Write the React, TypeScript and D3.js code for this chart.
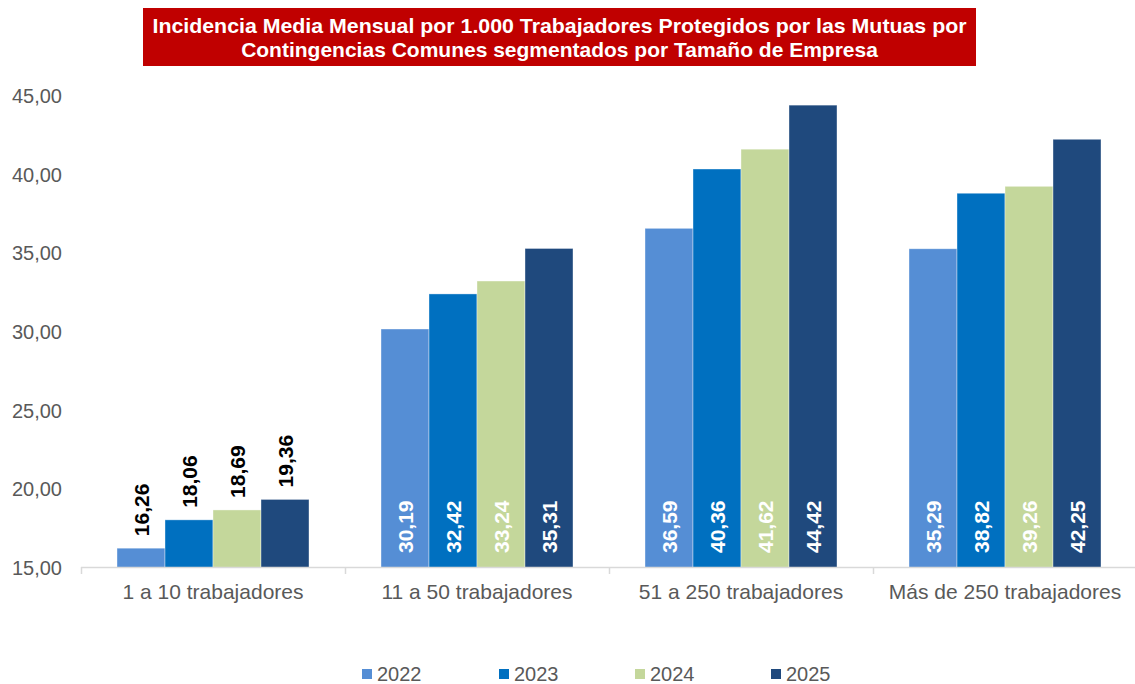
import React from "react";
import * as d3 from "d3";

const categories = ["1 a 10 trabajadores", "11 a 50 trabajadores", "51 a 250 trabajadores", "Más de 250 trabajadores"];
const years = ["2022", "2023", "2024", "2025"];
const v2022 = [16.26, 30.19, 36.59, 35.29];
const v2023 = [18.06, 32.42, 40.36, 38.82];
const v2024 = [18.69, 33.24, 41.62, 39.26];
const v2025 = [19.36, 35.31, 44.42, 42.25];
const series = [v2022, v2023, v2024, v2025];
const colors = ["#558ED5", "#0070C0", "#C4D79B", "#1F497D"];
const yTicks = [15, 20, 25, 30, 35, 40, 45];
const title1 = "Incidencia Media Mensual por 1.000 Trabajadores Protegidos por las Mutuas por";
const title2 = "Contingencias Comunes segmentados por Tamaño de Empresa";

const W = 1135, H = 684;
const FONT = "'Liberation Sans', Arial, sans-serif";

export default function App() {
  const x0 = d3.scaleBand<string>().domain(categories).range([81, 1137]).paddingInner(0).paddingOuter(0);
  const x1 = d3.scaleBand<string>().domain(years).range([0, x0.bandwidth()]).paddingInner(0).paddingOuter(0.75);
  const y = d3.scaleLinear().domain([15, 45]).range([568, 96]);
  const fmt = (v: number) => v.toFixed(2).replace(".", ",");
  const legendX = [362, 499, 635, 771];

  return (
    <svg width={W} height={H} style={{ position: "absolute", left: 0, top: 0, background: "#fff" }} fontFamily={FONT}>
      <rect x={143} y={8} width={833} height={58} fill="#C00000" />
      <text x={559.5} y={33} textAnchor="middle" fill="#fff" fontWeight="bold" fontSize={21} textLength={814} lengthAdjust="spacingAndGlyphs">{title1}</text>
      <text x={559.5} y={57} textAnchor="middle" fill="#fff" fontWeight="bold" fontSize={21}>{title2}</text>

      {yTicks.map((t) => (
        <text key={t} x={62} y={y(t)} dy="0.35em" textAnchor="end" fill="#595959" fontSize={20}>{fmt(t)}</text>
      ))}

      {categories.map((c, ci) => (
        <g key={c} transform={`translate(${x0(c)},0)`}>
          {years.map((yr, si) => {
            const v = series[si][ci];
            const bx = x1(yr)!;
            const bw = x1.bandwidth();
            const top = y(v);
            const cx = bx + bw / 2;
            const inside = ci > 0;
            const ly = inside ? y(15) - 15 : top - 12;
            return (
              <g key={yr}>
                <rect x={bx} y={top} width={bw} height={y(15) - top} fill={colors[si]} stroke="#fff" strokeOpacity={0.5} strokeWidth={0.75} />
                <text transform={`translate(${cx},${ly}) rotate(-90)`} dominantBaseline="central" textAnchor="start"
                  fill={inside ? "#fff" : "#000"} fontWeight="bold" fontSize={21}>{fmt(v)}</text>
              </g>
            );
          })}
          <text x={x0.bandwidth() / 2} y={599} textAnchor="middle" fill="#595959" fontSize={21}>{c}</text>
        </g>
      ))}

      <line x1={81} x2={1135} y1={567.5} y2={567.5} stroke="#D9D9D9" strokeWidth={1.5} />
      {[0, 1, 2, 3].map((i) => (
        <line key={i} x1={x0(categories[i])! + 0.5} x2={x0(categories[i])! + 0.5} y1={567} y2={574} stroke="#D9D9D9" strokeWidth={1.5} />
      ))}

      {years.map((yr, i) => (
        <g key={yr}>
          <rect x={legendX[i]} y={669} width={10} height={10} fill={colors[i]} />
          <text x={legendX[i] + 15} y={681} fill="#595959" fontSize={20}>{yr}</text>
        </g>
      ))}
    </svg>
  );
}
